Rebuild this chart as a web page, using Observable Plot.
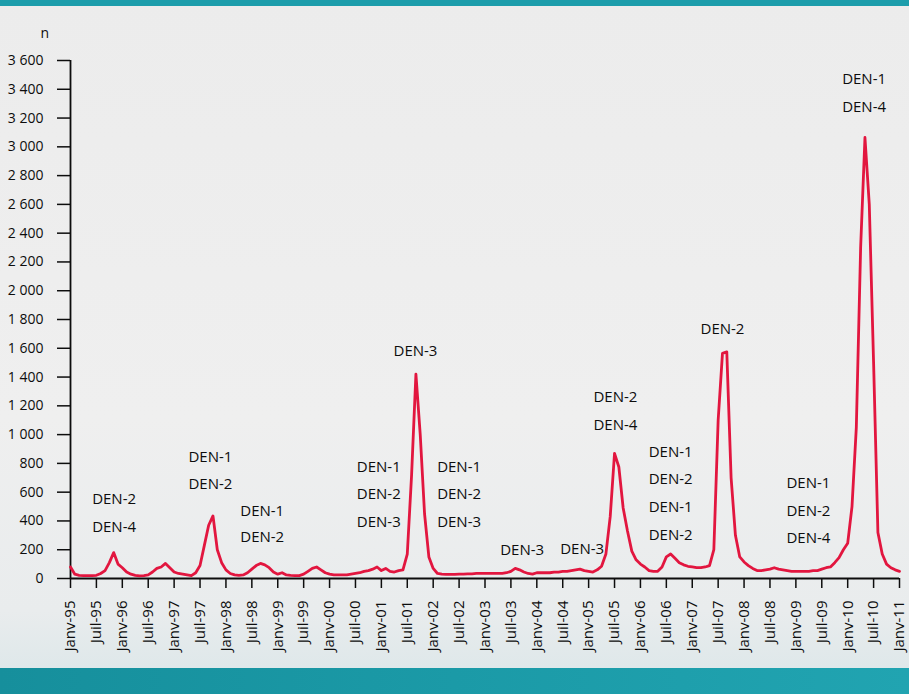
<!DOCTYPE html>
<html>
<head>
<meta charset="utf-8">
<script src="https://cdn.jsdelivr.net/npm/d3@7"></script>
<script src="https://cdn.jsdelivr.net/npm/@observablehq/plot@0.6"></script>
<style>
  html, body { margin: 0; padding: 0; }
  body {
    width: 909px; height: 694px; overflow: hidden; position: relative;
    background: linear-gradient(180deg, #ececec 0%, #efefef 60%, #e9eced 88%, #dfe8ea 96%);
    font-family: "Open Sans", sans-serif;
  }
  #topband { position: absolute; left: 0; top: 0; width: 909px; height: 6px; background: #1c9dab; }
  #bottomband { position: absolute; left: 0; top: 668px; width: 909px; height: 26px;
    background: linear-gradient(90deg, #168f9c 0%, #1b9aa7 50%, #21a4b1 100%); }
  #chart { position: absolute; left: 0; top: 0; }
</style>
</head>
<body>
<div id="topband"></div>
<div id="bottomband"></div>
<div id="chart"></div>
<script>
// Monthly dengue cases (n), January to December of each year
const cases1995 = [80, 30, 22, 20, 20, 20, 22, 35, 55, 110, 180, 100];
const cases1996 = [75, 45, 30, 22, 18, 20, 25, 45, 70, 80, 105, 75];
const cases1997 = [45, 35, 30, 25, 20, 40, 90, 230, 370, 435, 200, 110];
const cases1998 = [60, 35, 25, 22, 25, 40, 65, 90, 105, 95, 75, 45];
const cases1999 = [30, 40, 25, 22, 20, 20, 30, 50, 70, 80, 60, 40];
const cases2000 = [30, 25, 25, 25, 25, 30, 35, 40, 50, 55, 65, 80];
const cases2001 = [55, 70, 50, 45, 55, 60, 170, 720, 1420, 1000, 450, 150];
const cases2002 = [70, 35, 30, 28, 28, 28, 30, 30, 32, 32, 35, 35];
const cases2003 = [35, 35, 35, 35, 35, 40, 50, 70, 60, 45, 35, 30];
const cases2004 = [40, 40, 40, 40, 45, 45, 50, 50, 55, 60, 65, 55];
const cases2005 = [50, 45, 60, 85, 170, 430, 870, 775, 490, 330, 190, 130];
const cases2006 = [100, 80, 55, 50, 50, 80, 150, 170, 140, 110, 95, 85];
const cases2007 = [80, 75, 75, 80, 90, 200, 1100, 1565, 1575, 700, 300, 150];
const cases2008 = [115, 90, 70, 55, 55, 60, 65, 75, 65, 60, 55, 50];
const cases2009 = [50, 50, 50, 50, 55, 55, 65, 75, 80, 110, 145, 200];
const cases2010 = [245, 500, 1050, 2300, 3065, 2600, 1500, 320, 170, 100, 75, 60];
const cases2011 = [50];

// X tick labels (every 6 months from Janv-95)
const xTickLabels = [
  "Janv-95","Juil-95","Janv-96","Juil-96","Janv-97","Juil-97","Janv-98","Juil-98",
  "Janv-99","Juil-99","Janv-00","Juil-00","Janv-01","Juil-01","Janv-02","Juil-02",
  "Janv-03","Juil-03","Janv-04","Juil-04","Janv-05","Juil-05","Janv-06","Juil-06",
  "Janv-07","Juil-07","Janv-08","Juil-08","Janv-09","Juil-09","Janv-10","Juil-10","Janv-11"
];
const yTicks = [0,200,400,600,800,1000,1200,1400,1600,1800,2000,2200,2400,2600,2800,3000,3200,3400,3600];

// Serotype annotations: month index (0 = Janv-95), value level, text
const annMonth = [10.1, 10.1, 32.4, 32.4, 44.4, 44.4, 71.4, 71.4, 71.4, 79.9, 90, 90, 90,
  104.6, 118.5, 126.2, 126.2, 139, 139, 139, 139, 151, 170.9, 170.9, 170.9, 183.8, 183.8];
const annValue = [549, 354, 841, 653, 466, 285, 771, 584, 389, 1578, 771, 584, 389,
  195, 202, 1258, 1063, 876, 688, 493, 299, 1731, 660, 466, 278, 3468, 3273];
const annText = ["DEN-2","DEN-4","DEN-1","DEN-2","DEN-1","DEN-2","DEN-1","DEN-2","DEN-3","DEN-3",
  "DEN-1","DEN-2","DEN-3","DEN-3","DEN-3","DEN-2","DEN-4","DEN-1","DEN-2","DEN-1","DEN-2",
  "DEN-2","DEN-1","DEN-2","DEN-4","DEN-1","DEN-4"];

const allCases = [].concat(cases1995, cases1996, cases1997, cases1998, cases1999, cases2000,
  cases2001, cases2002, cases2003, cases2004, cases2005, cases2006, cases2007, cases2008,
  cases2009, cases2010, cases2011);
const series = allCases.map((v, i) => ({m: i, v}));
const annotations = annText.map((t, i) => ({m: annMonth[i], v: annValue[i], t}));
const xTicks = xTickLabels.map((_, i) => i * 6);

const fr = d3.formatLocale({decimal: ",", thousands: " ", grouping: [3], currency: ["", " €"]});
const yFmt = fr.format(",d");

const ink = "#0d0d0d";
const chart = Plot.plot({
  width: 909,
  height: 694,
  marginLeft: 70,
  marginRight: 10,
  marginTop: 60,
  marginBottom: 116,
  style: {background: "transparent", fontFamily: "'Open Sans', sans-serif", color: ink, overflow: "visible"},
  x: {domain: [0, 192], axis: null},
  y: {domain: [0, 3600], axis: null},
  marks: [
    Plot.axisY({ticks: yTicks, tickFormat: yFmt, label: null, tickSize: 13, tickPadding: 14, fontSize: 14,
      strokeWidth: 1.5, stroke: ink, fill: ink}),
    Plot.axisX({ticks: xTicks, tickFormat: d => xTickLabels[Math.round(d / 6)], label: null, tickRotate: -90,
      tickSize: 10, tickPadding: 12, fontSize: 15, strokeWidth: 1.5, stroke: ink, fill: ink}),
    Plot.ruleX([0], {stroke: ink, strokeWidth: 1.8}),
    Plot.ruleY([0], {stroke: ink, strokeWidth: 1.8}),
    Plot.text(["n"], {frameAnchor: "top-left", dx: -30, dy: -32, fontSize: 14, fill: ink}),
    Plot.line(series, {x: "m", y: "v", stroke: "#e2163f", strokeWidth: 2.8, strokeLinejoin: "round"}),
    Plot.text(annotations, {x: "m", y: "v", text: "t", fontSize: 15, fill: ink})
  ]
});
document.getElementById("chart").appendChild(chart);
</script>
</body>
</html>
